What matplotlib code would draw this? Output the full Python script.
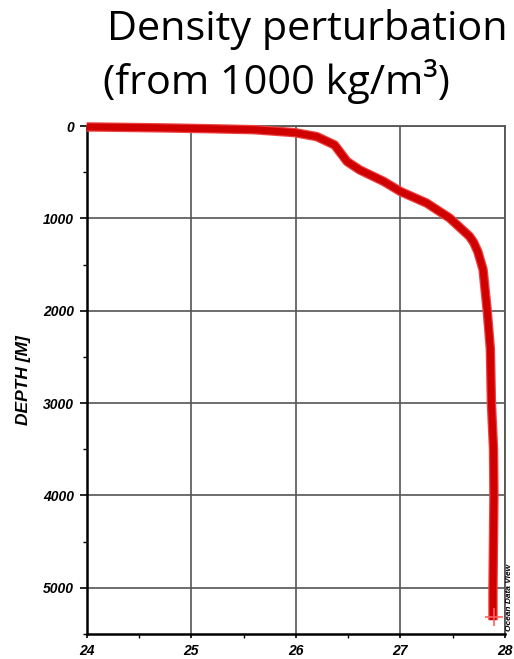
import matplotlib
matplotlib.use("Agg")
import matplotlib.pyplot as plt
from matplotlib.ticker import MultipleLocator

density = [24.0, 24.7, 25.2, 25.6, 25.99, 26.20, 26.37, 26.49, 26.61, 26.84, 27.0,
           27.25, 27.47, 27.66, 27.70, 27.74, 27.79, 27.83, 27.86, 27.87, 27.89,
           27.894, 27.885, 27.885]
depth = [10, 20, 30, 40, 72, 115, 205, 385, 475, 600, 709,
         834, 996, 1194, 1260, 1360, 1553, 2000, 2416, 3000, 3495,
         4000, 5000, 5350]
bottom_density = [27.89]
bottom_depth = [5320]

xticks = [24, 25, 26, 27, 28]
yticks = [0, 1000, 2000, 3000, 4000, 5000]

fig = plt.figure(figsize=(5.14, 6.59), dpi=100)
ax = fig.add_axes([0.1687, 0.0379, 0.8138, 0.7709])

ax.set_xlim(24, 28)
ax.set_ylim(5500, 0)

ax.grid(True, color='#555555', linewidth=1.2)
ax.set_axisbelow(True)

ax.plot(density, depth, color='#ee4040', linewidth=6.8, solid_capstyle='butt',
        solid_joinstyle='round', clip_on=False, zorder=3)
ax.plot(density, depth, color='#d00000', linewidth=5.0, solid_capstyle='butt',
        solid_joinstyle='round', clip_on=False, zorder=4)
ax.plot(bottom_density, bottom_depth, marker='+', color='#ff6060', markersize=13,
        markeredgewidth=1.2, linestyle='none', zorder=5)

ax.set_xticks(xticks)
ax.set_yticks(yticks)
ax.xaxis.set_minor_locator(MultipleLocator(0.5))
ax.yaxis.set_minor_locator(MultipleLocator(500))
ax.tick_params(axis='y', which='major', length=5, width=1.2, direction='out',
               labelsize=10, pad=4)
ax.tick_params(axis='x', which='major', length=3, width=1.2, direction='out',
               labelsize=10, pad=4.5)
ax.tick_params(axis='both', which='minor', length=3, width=1.0, direction='out')

for lab in ax.get_xticklabels() + ax.get_yticklabels():
    lab.set_fontfamily('Liberation Sans')
    lab.set_fontweight('bold')
    lab.set_fontstyle('italic')

ax.set_ylabel('DEPTH [M]', fontfamily='Liberation Sans', fontweight='bold',
              fontstyle='italic', fontsize=12.5, labelpad=9)

for side in ['left', 'bottom']:
    ax.spines[side].set_linewidth(1.8)
    ax.spines[side].set_color('black')
for side in ['top', 'right']:
    ax.spines[side].set_linewidth(1.3)
    ax.spines[side].set_color('#555555')

fig.text(0.208, 0.94, 'Density perturbation', fontfamily='Open Sans', fontsize=29.8,
         ha='left', va='baseline')
fig.text(0.200, 0.858, '(from 1000 kg/m³)', fontfamily='Open Sans', fontsize=29.8,
         ha='left', va='baseline')

fig.text(0.985, 0.043, 'Ocean Data View', rotation=90, fontsize=6,
         fontfamily='Liberation Sans', fontweight='bold', fontstyle='italic',
         ha='left', va='bottom')

fig.savefig('out.png', dpi=100)
